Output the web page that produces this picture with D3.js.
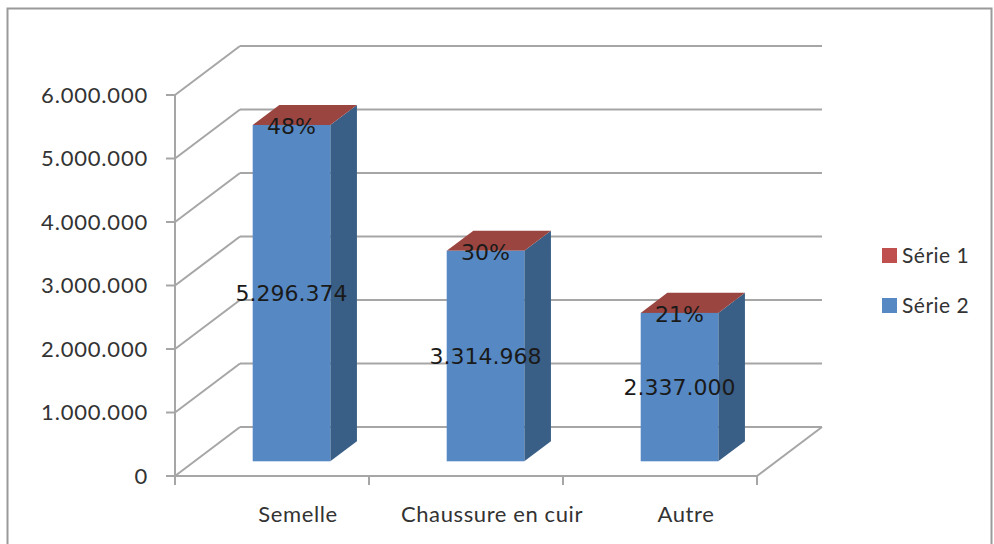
<!DOCTYPE html>
<html>
<head>
<meta charset="utf-8">
<script src="https://cdn.jsdelivr.net/npm/d3@7"></script>
<style>
  body { margin: 0; background: #fff; }
  svg text { fill: #333; }
</style>
</head>
<body>
<div id="chart"></div>
<script>
// data
var categories = ["Semelle", "Chaussure en cuir", "Autre"];
var serie2 = [5296374, 3314968, 2337000];
var serie1 = [0.48, 0.30, 0.21];
var serie1Labels = ["48%", "30%", "21%"];
var serie2Labels = ["5.296.374", "3.314.968", "2.337.000"];
var yTicks = [0, 1000000, 2000000, 3000000, 4000000, 5000000, 6000000];
var seriesNames = ["Série 1", "Série 2"];

var w = 994, h = 544;
var DX = 65, DY = -49;      // depth offset of the back wall
var d0 = 0.3, d1 = 0.71;    // bar depth (fraction)

var blueC = "#5689c4", blueSide = "#3a5f87";
var redC = "#c0504d", redTop = "#9b4540";
var gridC = "#a6a6a6";
var labelFont = "Lato, 'Open Sans', sans-serif";

var svg = d3.select("#chart").append("svg")
  .attr("width", w)
  .attr("height", h);

// frame
svg.append("rect")
  .attr("x", 7.5).attr("y", 8.5)
  .attr("width", 984).attr("height", 560)
  .style("fill", "none").style("stroke", "#9a9a9a").style("stroke-width", 2);

var x = d3.scaleBand().domain(categories).range([175, 757]);
var y = d3.scaleLinear().domain([0, 6000000]).range([476, 95]);
var bw = x.bandwidth();

var fmt = function(v) { return d3.format(",")(v).replace(/,/g, "."); };

// back wall gridlines
svg.selectAll(".gridb")
  .data(yTicks)
  .enter()
  .append("path")
  .attr("d", function(d) {
    return "M" + (175 + DX) + "," + (y(d) + DY) + " H " + (757 + DX);
  })
  .style("stroke", gridC).style("stroke-width", 2).style("fill", "none");

// side wall diagonals
svg.selectAll(".grids")
  .data(yTicks)
  .enter()
  .append("path")
  .attr("d", function(d) {
    return "M175," + y(d) + " l " + DX + "," + DY;
  })
  .style("stroke", gridC).style("stroke-width", 2).style("fill", "none");

// floor: right edge
svg.append("path")
  .attr("d", "M757," + y(0) + " l " + DX + "," + DY)
  .style("stroke", gridC).style("stroke-width", 2).style("fill", "none");

// y axis
svg.append("path")
  .attr("d", "M175," + y(6000000) + " V " + y(0))
  .style("stroke", gridC).style("stroke-width", 2).style("fill", "none");
svg.selectAll(".ytick")
  .data(yTicks)
  .enter()
  .append("path")
  .attr("d", function(d) { return "M166," + y(d) + " H 175"; })
  .style("stroke", gridC).style("stroke-width", 2);
svg.selectAll(".ylab")
  .data(yTicks)
  .enter()
  .append("text")
  .attr("x", 148)
  .attr("y", function(d) { return y(d); })
  .attr("dy", "0.36em")
  .attr("text-anchor", "end")
  .style("font-family", labelFont)
  .style("font-size", "22px")
  .style("letter-spacing", "0.8px")
  .text(fmt);

// x axis
svg.append("path")
  .attr("d", "M175," + y(0) + " H 757")
  .style("stroke", gridC).style("stroke-width", 2).style("fill", "none");
var xticks = categories.map(function(c) { return x(c); }).concat([757]);
svg.selectAll(".xtick")
  .data(xticks)
  .enter()
  .append("path")
  .attr("d", function(d) { return "M" + d + "," + y(0) + " V " + (y(0) + 9); })
  .style("stroke", gridC).style("stroke-width", 2);
svg.selectAll(".xlab")
  .data(categories)
  .enter()
  .append("text")
  .attr("x", function(d) { return x(d) + bw / 2 + 26; })
  .attr("y", 522)
  .attr("text-anchor", "middle")
  .style("font-family", labelFont)
  .style("font-size", "22px")
  .style("letter-spacing", "0.6px")
  .text(function(d) { return d; });

// bars
var bars = categories.map(function(c, i) {
  var left = x(c) + bw / 2 - bw * 0.2 + d0 * DX;
  return {
    cat: c,
    left: left,
    right: left + bw * 0.4,
    top: y(serie2[i] + serie1[i]) + d0 * DY,
    bottom: y(0) + d0 * DY,
    mid: (y(serie2[i]) + y(0)) / 2 + d0 * DY,
    lab1: serie1Labels[i],
    lab2: serie2Labels[i]
  };
});
var ddx = (d1 - d0) * DX, ddy = (d1 - d0) * DY;

var g = svg.selectAll(".bar").data(bars).enter().append("g").classed("bar", 1);
// side
g.append("path")
  .attr("d", function(d) {
    return "M" + d.right + "," + d.top + " l " + ddx + "," + ddy +
      " V " + (d.bottom + ddy) + " l " + (-ddx) + "," + (-ddy) + " Z";
  })
  .style("fill", blueSide);
// top (Série 1)
g.append("path")
  .attr("d", function(d) {
    return "M" + d.left + "," + d.top + " l " + ddx + "," + ddy +
      " H " + (d.right + ddx) + " l " + (-ddx) + "," + (-ddy) + " Z";
  })
  .style("fill", redTop);
// front
g.append("rect")
  .attr("x", function(d) { return d.left; })
  .attr("y", function(d) { return d.top; })
  .attr("width", function(d) { return d.right - d.left; })
  .attr("height", function(d) { return d.bottom - d.top; })
  .style("fill", blueC);

// data labels
g.append("text")
  .attr("x", function(d) { return (d.left + d.right) / 2; })
  .attr("y", function(d) { return d.mid; })
  .attr("dy", "0.36em")
  .attr("text-anchor", "middle")
  .style("font-family", "'DejaVu Sans', sans-serif")
  .style("font-size", "22px")
  .style("fill", "#1a1a1a")
  .text(function(d) { return d.lab2; });
g.append("text")
  .attr("x", function(d) { return (d.left + d.right) / 2; })
  .attr("y", function(d) { return d.top + 1; })
  .attr("dy", "0.36em")
  .attr("text-anchor", "middle")
  .style("font-family", "'DejaVu Sans', sans-serif")
  .style("font-size", "22px")
  .style("fill", "#1a1a1a")
  .text(function(d) { return d.lab1; });

// legend
var legend = svg.selectAll(".leg")
  .data(seriesNames)
  .enter()
  .append("g")
  .attr("transform", function(d, i) { return "translate(882," + (255 + i * 50) + ")"; });
legend.append("rect")
  .attr("x", 0).attr("y", -7)
  .attr("width", 15).attr("height", 15)
  .style("fill", function(d, i) { return i ? blueC : redC; });
legend.append("text")
  .attr("x", 20)
  .attr("y", 0)
  .attr("dy", "0.36em")
  .style("font-family", labelFont)
  .style("font-size", "21px")
  .style("letter-spacing", "0.5px")
  .text(function(d) { return d; });
</script>
</body>
</html>
